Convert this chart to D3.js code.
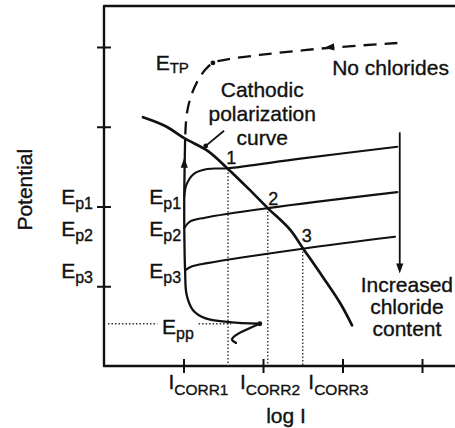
<!DOCTYPE html>
<html><head><meta charset="utf-8">
<script src="https://cdn.jsdelivr.net/npm/d3@7"></script>
<style>
html,body{margin:0;padding:0;background:#fff;}
svg{display:block;font-family:"Liberation Sans",Arial,Helvetica,sans-serif;}
svg text{stroke:#111;stroke-width:0.35px;}
</style></head>
<body><svg id="chart" width="455" height="428"></svg>
<script>
// Unlabelled tick positions on the log I and potential axes
const xTicks = [1, 2, 3, 4];
const yTicks = [1, 2, 3, 4];
const xMax = 4.415, yMax = 4.514;

// Cathodic polarization curve [log I, E]
const cathodic = [
  [0.49, 3.12], [0.77, 3.01], [1.02, 2.85], [1.30, 2.70], [1.56, 2.47],
  [1.81, 2.23], [2.06, 1.98], [2.34, 1.71], [2.50, 1.48], [2.75, 1.12],
  [2.97, 0.79], [3.12, 0.51]
];

// Anodic curve with no chlorides, above the cathodic curve (dashed)
const noChlorides = [
  [3.69, 4.05], [2.84, 3.99], [1.96, 3.90], [1.52, 3.84], [1.37, 3.80],
  [1.27, 3.71], [1.17, 3.56], [1.09, 3.37], [1.04, 3.15], [1.02, 2.83]
];

// Passive branch shared by all curves, down to the active nose at E_pp
const passive = [
  [1.02, 2.83], [1.01, 2.21], [1.01, 1.71], [1.02, 1.20], [1.04, 0.89],
  [1.12, 0.70], [1.27, 0.60], [1.58, 0.55], [1.96, 0.53]
];
const activeNose = [[1.96, 0.53], [1.65, 0.38], [1.61, 0.33], [1.66, 0.29]];

// Anodic curves breaking down at the pitting potentials
const anodic1 = [[1.01, 2.13], [1.04, 2.28], [1.13, 2.41], [1.30, 2.47], [1.56, 2.48], [2.47, 2.60], [3.69, 2.75]];
const anodic2 = [[1.01, 1.73], [1.08, 1.81], [1.27, 1.86], [2.06, 1.98], [3.69, 2.18]];
const anodic3 = [[1.02, 1.20], [1.11, 1.25], [1.30, 1.29], [2.50, 1.47], [3.66, 1.62]];

const pitLevels = [2.13, 1.73, 1.20];          // E_p1, E_p2, E_p3
const pitNames = ["p1", "p2", "p3"];
const eppLevel = 0.53;                          // E_pp
const etpLevel = 3.71;                          // E_TP
const corrCurrents = [1.56, 2.06, 2.50];        // I_CORR1..3 (log I)
const corrPotentials = [2.47, 1.98, 1.48];      // mixed potentials 1..3
const corrNames = ["CORR1", "CORR2", "CORR3"];
const crossNames = ["1", "2", "3"];

const svg = d3.select("#chart");
const x = d3.scaleLinear().domain([0, xMax]).range([104, 455]);
const y = d3.scaleLinear().domain([0, yMax]).range([366, 6]);
const ink = "#111";

const smooth = d3.line().x(d => x(d[0])).y(d => y(d[1])).curve(d3.curveCatmullRom.alpha(0.5));
const straight = d3.line().x(d => x(d[0])).y(d => y(d[1]));

// Frame: left, top and bottom edges
svg.append("path")
  .attr("d", `M${x(xMax)},${y(yMax)}H${x(0)}V${y(0)}H${x(xMax)}`)
  .attr("fill", "none").attr("stroke", ink).attr("stroke-width", 2.4)
  .attr("stroke-linejoin", "round");

// Tick marks crossing the axes
const yAxis = svg.append("g").attr("transform", `translate(${x(0)},0)`)
  .call(d3.axisLeft(y).tickValues(yTicks).tickSize(7).tickFormat(""));
yAxis.select(".domain").remove();
yAxis.selectAll(".tick line").attr("x1", 7).attr("x2", -7).attr("stroke", ink).attr("stroke-width", 2);

const xAxis = svg.append("g").attr("transform", `translate(0,${y(0)})`)
  .call(d3.axisBottom(x).tickValues(xTicks).tickSize(7).tickFormat(""));
xAxis.select(".domain").remove();
xAxis.selectAll(".tick line").attr("y1", -7).attr("y2", 7).attr("stroke", ink).attr("stroke-width", 2);

// Dotted drop lines to the corrosion currents
const dotted = g => g.attr("stroke", "#333").attr("stroke-width", 1.4).attr("stroke-dasharray", "1.5,2").attr("fill", "none");
corrCurrents.forEach((c, i) => {
  svg.append("path").attr("d", straight([[c, corrPotentials[i]], [c, 0]])).call(dotted);
});
// Dotted E_pp level
svg.append("path").attr("d", straight([[0.05, eppLevel], [0.67, eppLevel]])).call(dotted);
svg.append("path").attr("d", straight([[1.19, eppLevel], [1.60, eppLevel]])).call(dotted);

// Curves
const curve = (data, w, gen) => svg.append("path").attr("d", (gen || smooth)(data))
  .attr("fill", "none").attr("stroke", ink).attr("stroke-width", w)
  .attr("stroke-linecap", "round").attr("stroke-linejoin", "round");

curve(noChlorides, 2.3).attr("stroke-dasharray", "13,8").attr("stroke-linecap", "butt");
curve(passive, 2.3);
curve(activeNose, 2.3);
curve(anodic1, 2.1);
curve(anodic2, 2.1);
curve(anodic3, 2.1);
curve(cathodic, 2.7);

// Arrowheads
function arrow(u, v, angle) {
  svg.append("path").attr("d", "M0,0L-10,-3.6L-10,3.6Z").attr("fill", ink)
    .attr("transform", `translate(${x(u)},${y(v)}) rotate(${angle})`);
}
arrow(1.01, 2.61, -90);
arrow(2.77, 3.99, 175);
// Increasing chloride content arrow
svg.append("path").attr("d", straight([[3.72, 2.93], [3.72, 1.24]]))
  .attr("stroke", ink).attr("stroke-width", 1.8);
arrow(3.72, 1.16, 90);

// Small dots
[[1.37, 3.80], [1.28, 2.76], [1.96, 0.53]].forEach(p => {
  svg.append("circle").attr("cx", x(p[0])).attr("cy", y(p[1])).attr("r", 2.4).attr("fill", ink);
});
// Pointer to the cathodic curve label
svg.append("path").attr("d", straight([[1.28, 2.76], [1.51, 2.95]]))
  .attr("stroke", ink).attr("stroke-width", 1.8);

// Text helpers
function label(px, py, main, sub, anchor, size, subSize, subDy) {
  const t = svg.append("text").attr("x", px).attr("y", py)
    .attr("text-anchor", anchor || "start").attr("font-size", size || 21).attr("fill", ink);
  t.append("tspan").text(main);
  if (sub) t.append("tspan").attr("font-size", subSize || 16).attr("dy", subDy || 5).text(sub);
  return t;
}

// Potential levels, outside and inside the axes
pitLevels.forEach((lv, i) => {
  label(x(0) - 11, y(lv) + 7.5, "E", pitNames[i], "end");
  label(x(passive[0][0]) - 4, y(lv) + 7.5, "E", pitNames[i], "end");
});
label(x(0.73), y(eppLevel) + 10, "E", "pp");
label(x(0.65), y(etpLevel), "E", "TP", "start", 21, 15, 3);

// Corrosion current labels under the axis
const corrLabelX = [0.81, 1.71, 2.57];
corrNames.forEach((n, i) => label(x(corrLabelX[i]), y(0) + 23, "I", n, "start", 21, 15.5, 6));

// Intersection numbers
const crossLabelPos = [[1.60, 2.53], [2.13, 2.02], [2.55, 1.55]];
crossNames.forEach((n, i) => label(x(crossLabelPos[i][0]), y(crossLabelPos[i][1]), n, null, "middle", 18));

// Annotations
label(x(2.87), y(3.65), "No chlorides");
[["Cathodic", 3.37], ["polarization", 3.07], ["curve", 2.77]].forEach(d => label(x(1.99), y(d[1]), d[0], null, "middle"));
[["Increased", 0.93], ["chloride", 0.65], ["content", 0.38]].forEach(d => label(x(3.81), y(d[1]), d[0], null, "middle"));

// Axis titles
label(x(2.29), 423, "log I", null, "middle");
svg.append("text").attr("transform", `translate(32,${y(2.21)}) rotate(-90)`)
  .attr("text-anchor", "middle").attr("font-size", 21).attr("fill", ink).text("Potential");
</script>
</body></html>
